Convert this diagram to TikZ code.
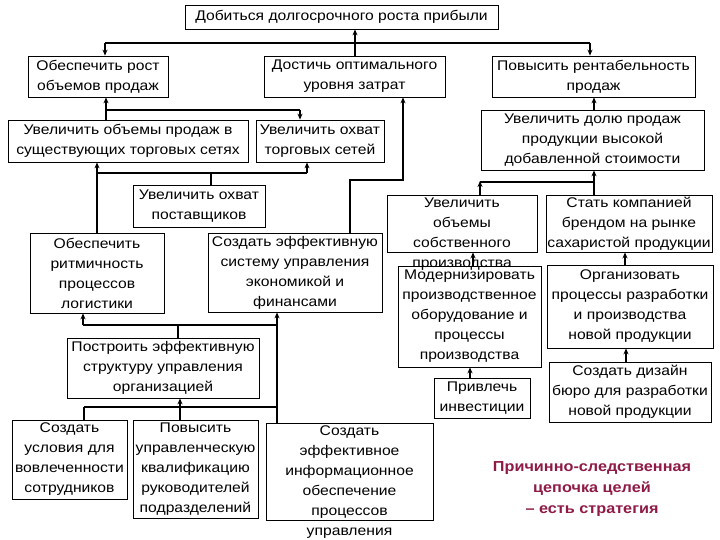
\documentclass[tikz,border=0pt]{standalone}
\usepackage{fontspec}
\setmainfont[FakeStretch=1.12]{Liberation Sans}
\usetikzlibrary{arrows.meta}
\definecolor{redtxt}{HTML}{8E1A45}
\tikzset{
 box/.style={draw,line width=0.8pt,inner sep=0pt,align=center,font=\fontsize{14}{20}\selectfont},
 txt/.style={inner sep=0pt,align=center,font=\fontsize{14}{20}\selectfont},
 thk/.style={line width=2pt},
 arr/.style={line width=2pt,-{Stealth[length=6pt,width=5pt]}}
}
\newcommand\bx[6]{\node[box,minimum width={#4pt-#2pt},minimum height={#5pt-#3pt}] (#1) at ({(#2+#4)/2},{(#3+#5)/2}) {#6};}
\begin{document}
\begin{tikzpicture}[x=1pt,y=-1pt]
\useasboundingbox (0,0) rectangle (720,540);
\bx{top}{185}{5}{498}{29}{Добиться долгосрочного роста прибыли}
\bx{ob}{28}{56}{168}{97}{Обеспечить рост\\объемов продаж}
\bx{dost}{264}{56}{445}{97}{Достичь оптимального\\уровня затрат}
\bx{pov}{492}{56}{695}{97}{Повысить рентабельность\\продаж}
\bx{uv1}{8}{120}{248}{162}{Увеличить объемы продаж в\\существующих торговых сетях}
\bx{uvo}{256}{120}{384}{162}{Увеличить охват\\торговых сетей}
\bx{post}{133}{185}{265}{227}{Увеличить охват\\поставщиков}
\bx{ritm}{30}{233}{164}{313}{Обеспечить\\ритмичность\\процессов\\логистики}
\bx{sys}{208}{233}{382}{312}{Создать эффективную\\систему управления\\экономикой и\\финансами}
\bx{dolya}{481}{110}{704}{170}{Увеличить долю продаж\\продукции высокой\\добавленной стоимости}
\node[draw,line width=0.8pt,minimum width=150pt,minimum height=57pt] (uvs) at (462,223.5) {};
\node[txt] at (462,234) {Увеличить\\объемы\\собственного\\производства};
\bx{stat}{546}{195}{712}{252}{Стать компанией\\брендом на рынке\\сахаристой продукции}
\bx{mod}{398}{266}{541}{367}{Модернизировать\\производственное\\оборудование и\\процессы\\производства}
\bx{org}{547}{265}{713}{348}{Организовать\\процессы разработки\\и производства\\новой продукции}
\bx{diz}{549}{362}{711}{422}{Создать дизайн\\бюро для разработки\\новой продукции}
\bx{priv}{434}{378}{530}{418}{Привлечь\\инвестиции}
\bx{postr}{67}{338}{259}{398}{Построить эффективную\\структуру управления\\организацией}
\bx{usl}{12}{420}{127}{499}{Создать\\условия для\\вовлеченности\\сотрудников}
\bx{pov2}{133}{420}{258}{518}{Повысить\\управленческую\\квалификацию\\руководителей\\подразделений}
\node[draw,line width=0.8pt,minimum width=167pt,minimum height=97pt] (inf) at (349.5,471.5) {};
\node[txt] at (349.5,482) {Создать\\эффективное\\информационное\\обеспечение\\процессов\\управления};
\node[txt,text=redtxt,font=\bfseries\fontsize{14.5}{21}\selectfont] (red) at (592,489) {Причинно-следственная\\цепочка целей\\– есть стратегия};
% connectors
\draw[thk] (105,43) -- (590,43);
\draw[arr] (355,43) -- (top.south -| 355,0);
\draw[arr] (105,43) -- (ob.north -| 105,0);
\draw[arr] (590,43) -- (pov.north -| 590,0);
\draw[thk] (dost.north -| 355,0) -- (355,43);
\draw[arr] (uv1.north -| 106,0) -- (ob.south -| 106,0);
\draw[thk] (106,110) -- (300,110);
\draw[arr] (300,110) -- (uvo.north -| 300,0);
\draw[thk] (post.north -| 211,0) -- (211,173);
\draw[thk] (97,173) -- (307,173);
\draw[arr] (ritm.north -| 97,0) -- (uv1.south -| 97,0);
\draw[arr] (307,173) -- (uvo.south -| 307,0);
\draw[arr] (sys.north -| 350,0) |- (403,180) -- (dost.south -| 403,0);
\draw[arr] (dolya.north -| 594,0) -- (pov.south -| 594,0);
\draw[arr] (stat.north -| 594,0) -- (dolya.south -| 594,0);
\draw[thk] (480,182) -- (594,182);
\draw[arr] (uvs.north -| 480,0) -- (480,181);
\draw[arr] (mod.north -| 473,0) -- (uvs.south -| 473,0);
\draw[arr] (org.north -| 625,0) -- (stat.south -| 625,0);
\draw[arr] (diz.north -| 626,0) -- (org.south -| 626,0);
\draw[arr] (priv.north -| 470,0) -- (mod.south -| 470,0);
\draw[thk] (83,325) -- (277,325);
\draw[arr] (83,325) -- (ritm.south -| 83,0);
\draw[thk] (postr.north -| 178,0) -- (178,325);
\draw[arr] (inf.north -| 277,0) -- (sys.south -| 277,0);
\draw[thk] (84,407) -- (277,407);
\draw[thk] (usl.north -| 84,0) -- (84,407);
\draw[arr] (pov2.north -| 180,0) -- (postr.south -| 180,0);
\end{tikzpicture}
\end{document}
